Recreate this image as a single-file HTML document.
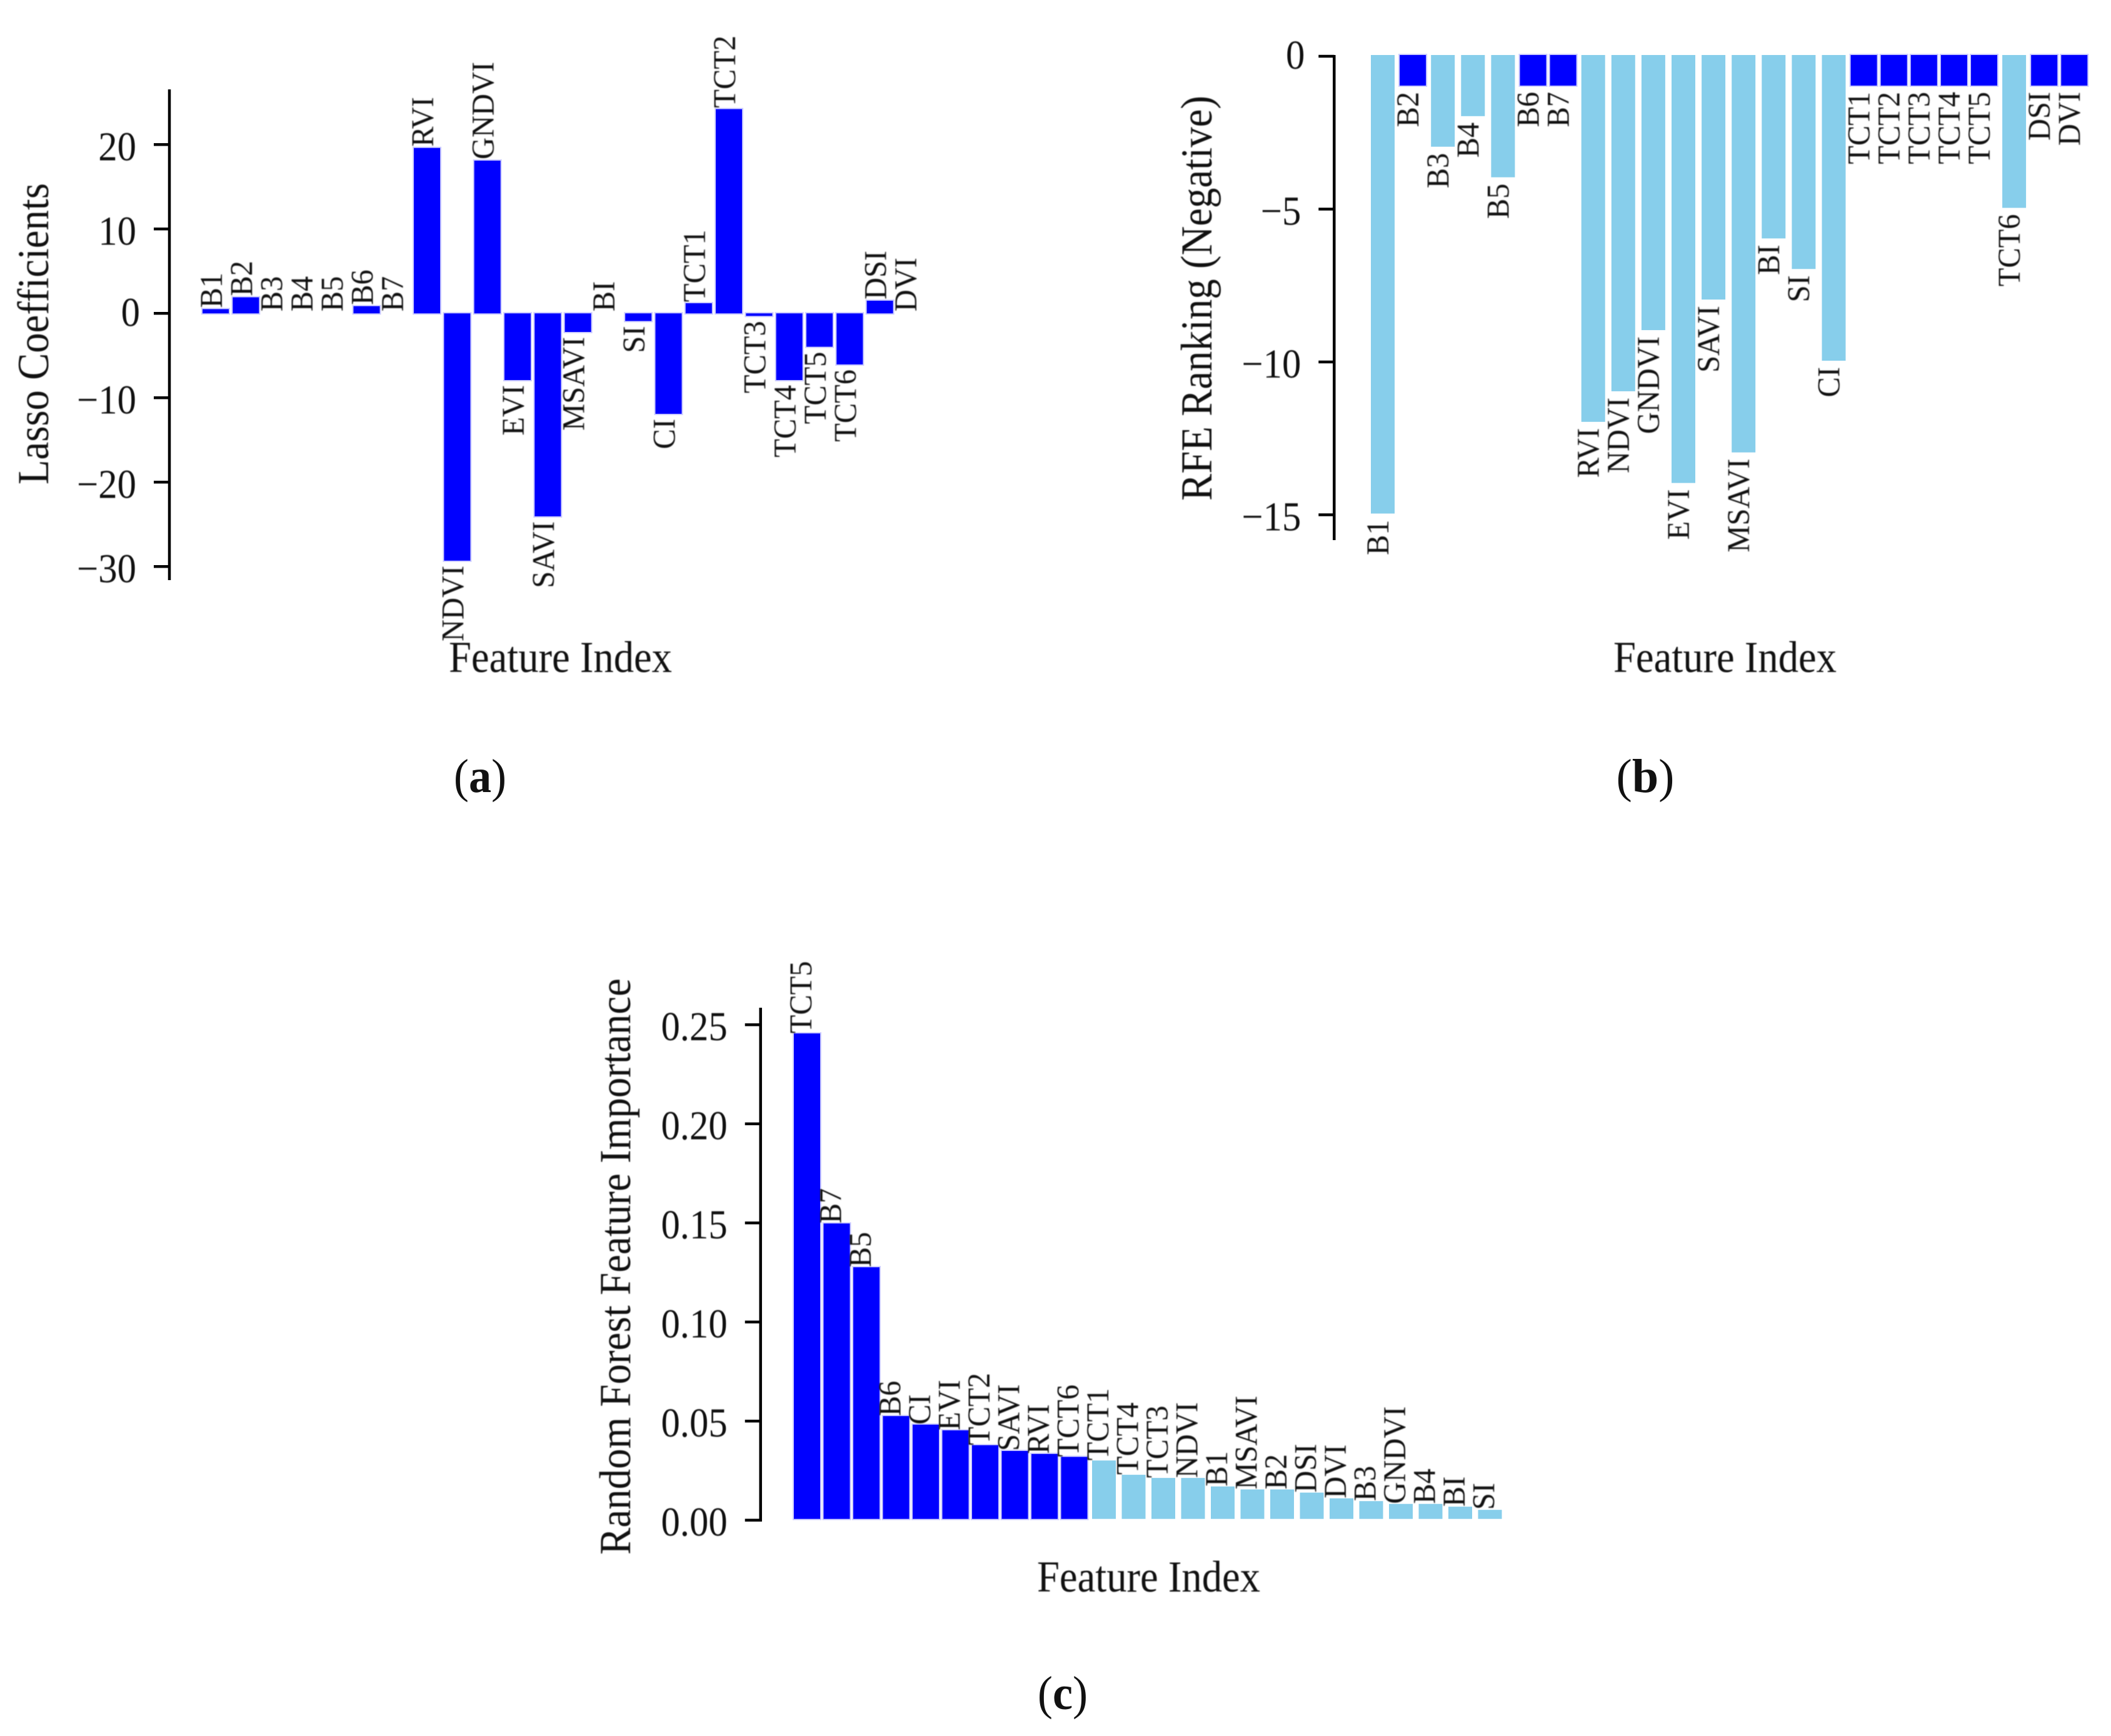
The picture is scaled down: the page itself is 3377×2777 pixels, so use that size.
<!DOCTYPE html>
<html lang="en">
<head>
<meta charset="utf-8">
<title>Feature selection charts</title>
<style>
  html, body { margin: 0; padding: 0; background: #fff; }
  #figure { display: block; width: 3377px; height: 2777px; background: #fff; }
  text { font-family: "Liberation Serif", serif; fill: #111; }
  .soft { filter: blur(0.7px); }
</style>
</head>
<body>
<svg id="figure" xmlns="http://www.w3.org/2000/svg" width="3377" height="2777" viewBox="0 0 3377 2777">
  <g id="panel-a"></g>
  <g id="panel-b"></g>
  <g id="panel-c"></g>

  <g class="soft">
    <text transform="translate(77,534) rotate(-90)" text-anchor="middle" font-size="71" textLength="482" lengthAdjust="spacingAndGlyphs">Lasso Coefficients</text>
    <text x="718" y="1075" font-size="71" textLength="357" lengthAdjust="spacingAndGlyphs">Feature Index</text>
    <text transform="translate(1938,477) rotate(-90)" text-anchor="middle" font-size="71" textLength="648" lengthAdjust="spacingAndGlyphs">RFE Ranking (Negative)</text>
    <text x="2581" y="1075" font-size="71" textLength="357" lengthAdjust="spacingAndGlyphs">Feature Index</text>
    <text transform="translate(1008,2026) rotate(-90)" text-anchor="middle" font-size="71" textLength="922" lengthAdjust="spacingAndGlyphs">Random Forest Feature Importance</text>
    <text x="1659" y="2546" font-size="71" textLength="357" lengthAdjust="spacingAndGlyphs">Feature Index</text>
  </g>

  <g>
    <text transform="translate(768,1267) scale(.95,1)" text-anchor="middle" font-size="76">(<tspan font-weight="bold">a</tspan>)</text>
    <text transform="translate(2632,1267) scale(1,1)" text-anchor="middle" font-size="76">(<tspan font-weight="bold">b</tspan>)</text>
    <text transform="translate(1700,2734) scale(.95,1)" text-anchor="middle" font-size="76">(<tspan font-weight="bold">c</tspan>)</text>
  </g>
</svg>

<script>
const features = ["B1","B2","B3","B4","B5","B6","B7","RVI","NDVI","GNDVI","EVI","SAVI","MSAVI","BI","SI","CI","TCT1","TCT2","TCT3","TCT4","TCT5","TCT6","DSI","DVI"];
const lassoValues = [0.5,1.9,0,0,0,0.85,0,19.6,-29.3,18.1,-7.9,-24.05,-2.2,0,-0.9,-11.9,1.2,24.2,-0.3,-7.9,-3.95,-6.05,1.5,0];
const lassoTicks = [20,10,0,-10,-20,-30];
const lassoTickLabels = ["20","10","0","\u221210","\u221220","\u221230"];

const rfeValues = [-15,-1,-3,-2,-4,-1,-1,-12,-11,-9,-14,-8,-13,-6,-7,-10,-1,-1,-1,-1,-1,-5,-1,-1];
const rfeTicks = [0,-5,-10,-15];
const rfeTickLabels = ["0","\u22125","\u221210","\u221215"];
const rfeSelectedRank = -1;

const rfFeatures = ["TCT5","B7","B5","B6","CI","EVI","TCT2","SAVI","RVI","TCT6","TCT1","TCT4","TCT3","NDVI","B1","MSAVI","B2","DSI","DVI","B3","GNDVI","B4","BI","SI"];
const rfValues = [0.2456,0.1497,0.1276,0.0525,0.0482,0.0453,0.0378,0.0349,0.0334,0.0319,0.0301,0.0229,0.0213,0.0213,0.017,0.0155,0.0155,0.0139,0.011,0.0096,0.0082,0.0082,0.0068,0.0052];
const rfTicks = [0,0.05,0.10,0.15,0.20,0.25];
const rfTickLabels = ["0.00","0.05","0.10","0.15","0.20","0.25"];
const rfSelectedCount = 10;

const SVG_NS = "http://www.w3.org/2000/svg";
const BLUE = "#0000ff";
const SKY = "#87ceeb";
const HALO = "#ccccff";

function xLasso(i) { return 345 + 48.3 * i; }
function yLasso(v) { return 501.3 - 13.5 * v; }
function xRfe(i) { return 2212 + 48.1 * i; }
function yRfe(v) { return 88 - 48.9 * v; }
function xRf(i) { return 1291 + 47.5 * i; }
function yRf(v) { return 2431.7 - 3170 * v; }

function make(tag, attrs) {
  const el = document.createElementNS(SVG_NS, tag);
  for (const k in attrs) el.setAttribute(k, attrs[k]);
  return el;
}

function drawAxis(parent, axisX, top, bottom, ticks, tickLabels, yFn, tickShift) {
  const spine = make("line", { x1: axisX, x2: axisX, y1: top, y2: bottom, stroke: "#000", "stroke-width": 4.5 });
  
  
  parent.appendChild(spine);
  ticks.forEach(function (t, i) {
    const y = yFn(t) + tickShift;
    const mark = make("line", { x1: axisX - 25, x2: axisX, y1: y, y2: y, stroke: "#000", "stroke-width": 4.5 });
    
    
    parent.appendChild(mark);
    const isZero = tickLabels[i] === "0";
    const lx = axisX - 53 + (isZero ? 6 : 0);
    const ly = y + (isZero ? 20 : 25);
    const label = make("text", { transform: "translate(" + lx + "," + ly + ") scale(.92,1)", "text-anchor": "end", "font-size": 66, class: "soft" });
    label.textContent = tickLabels[i];
    
    
    parent.appendChild(label);
  });
}

function drawBar(parent, cx, yStart, yEnd, color, width, hasValue) {
  const top = Math.min(yStart, yEnd);
  const h = Math.abs(yEnd - yStart);
  const attrs = { x: cx - width / 2, y: top, width: width, height: h, fill: color };
  if (color === BLUE && hasValue) {
    attrs.stroke = HALO;
    attrs["stroke-width"] = 4;
    attrs["paint-order"] = "stroke";
  }
  const bar = make("rect", attrs);
  
  
  parent.appendChild(bar);
}

function drawBarLabel(parent, text, x, y, below) {
  const label = make("text", {
    transform: "translate(" + x + "," + y + ") rotate(-90) scale(.95,1)",
    "text-anchor": below ? "end" : "start",
    "font-size": 51,
    class: "soft"
  });
  label.textContent = text;
  
  
  parent.appendChild(label);
}

/* Panel (a) Lasso */
const panelA = document.getElementById("panel-a");
drawAxis(panelA, 271, 143, 928, lassoTicks, lassoTickLabels, yLasso, 0);
lassoValues.forEach(function (v, i) {
  drawBar(panelA, xLasso(i), yLasso(0), yLasso(v), BLUE, 42, v !== 0);
});
lassoValues.forEach(function (v, i) {
  const below = v < 0;
  const y = below ? yLasso(v) + 8 : yLasso(v) - 3 + (v === 0 ? 0 : 1);
  drawBarLabel(panelA, features[i], xLasso(i) + 10, y, below);
});

/* Panel (b) RFE */
const panelB = document.getElementById("panel-b");
drawAxis(panelB, 2134.3, 88, 864, rfeTicks, rfeTickLabels, yRfe, 2);
rfeValues.forEach(function (v, i) {
  const selected = v === rfeSelectedRank;
  drawBar(panelB, xRfe(i), yRfe(0), yRfe(v), selected ? BLUE : SKY, selected ? 42 : 38, true);
});
rfeValues.forEach(function (v, i) {
  drawBarLabel(panelB, features[i], xRfe(i) + 9, yRfe(v) + 10, true);
});

/* Panel (c) Random Forest */
const panelC = document.getElementById("panel-c");
drawAxis(panelC, 1216.7, 1612, 2434, rfTicks, rfTickLabels, yRf, 0);
rfValues.forEach(function (v, i) {
  const selected = i < rfSelectedCount;
  drawBar(panelC, xRf(i), yRf(0) - 2, yRf(v), selected ? BLUE : SKY, selected ? 42 : 38, true);
});
rfValues.forEach(function (v, i) {
  drawBarLabel(panelC, rfFeatures[i], xRf(i) + 7, yRf(v), false);
});
</script>
</body>
</html>
